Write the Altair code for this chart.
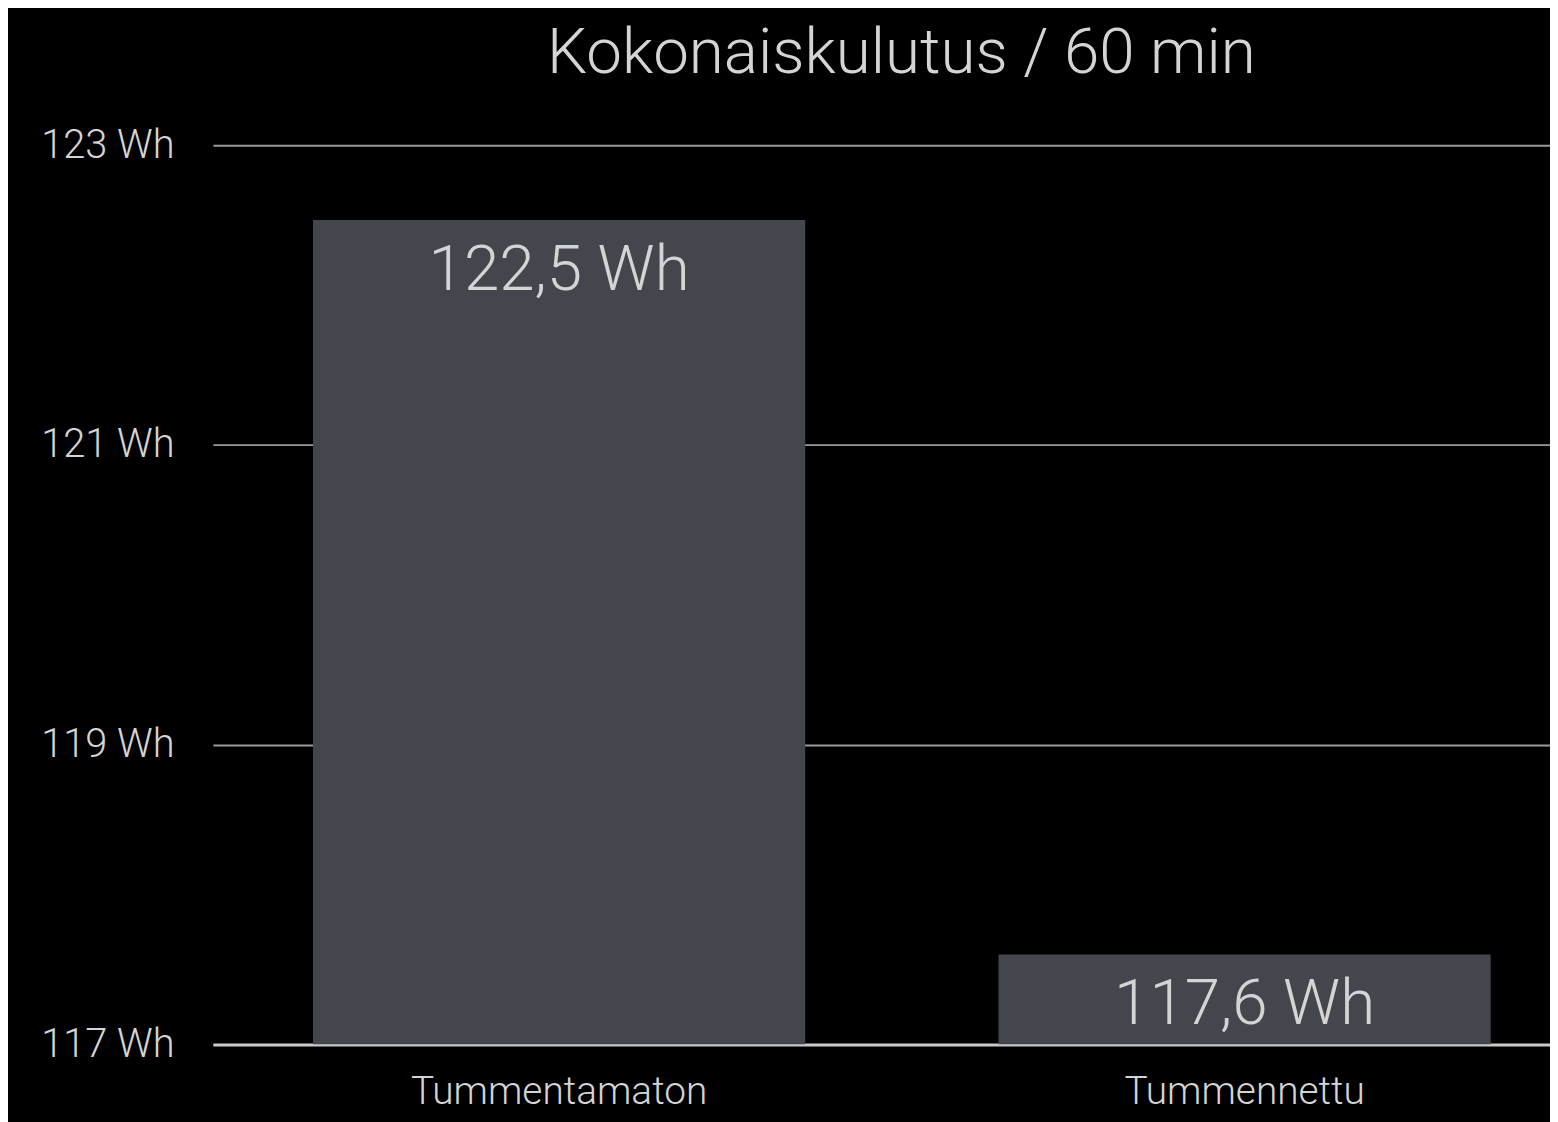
import altair as alt
import pandas as pd

categories = ["Tummentamaton", "Tummennettu"]
values = [122.5, 117.6]
labels = ["122,5 Wh", "117,6 Wh"]

df = pd.DataFrame({"cat": categories, "val": values, "label": labels})

FONT = "Roboto"
TEXT = "#d4d4d4"

x = alt.X("cat:N", sort=categories, title=None,
          scale=alt.Scale(range=[0, 1385], paddingInner=0.282, paddingOuter=0.146),
          axis=alt.Axis(labelAngle=0, ticks=False, labelFontSize=39, labelColor=TEXT,
                        labelFont=FONT, labelFontWeight=300, labelPadding=28, labelLimit=0,
                        domainColor="#c8c8c8", domainWidth=3, grid=False))
y = alt.Y("val:Q", title=None,
          scale=alt.Scale(domain=[117, 123], nice=False, zero=False, clamp=True),
          axis=alt.Axis(values=[117, 119, 121, 123], labelExpr="datum.value + ' Wh'",
                        ticks=False, domain=False, labelFontSize=40, labelColor=TEXT,
                        labelFont=FONT, labelFontWeight=300, labelPadding=39,
                        gridColor="#9a9a9a", gridWidth=2))

bars = alt.Chart(df).mark_bar(color="#43464d", clip=True).encode(
    x=x, y=y, y2=alt.datum(117))

text = alt.Chart(df).mark_text(baseline="alphabetic", dy=70, fontSize=64,
                               font=FONT, fontWeight=300, color=TEXT).encode(
    x=alt.X("cat:N", sort=categories), y="val:Q", text="label:N")

chart = (bars + text).properties(
    width=1344, height=904,
    title=alt.TitleParams("Kokonaiskulutus / 60 min", fontSize=64, font=FONT,
                          fontWeight=300, color=TEXT, anchor="middle", frame="group",
                          baseline="alphabetic", offset=10, dx=20, dy=21),
    autosize=alt.AutoSizeParams(type="none"),
    padding={"left": 206, "top": 135, "right": 0, "bottom": 75},
    background="black",
).configure_view(stroke=None)

chart.save("out.html", embed_options={"renderer": "svg", "actions": False})
